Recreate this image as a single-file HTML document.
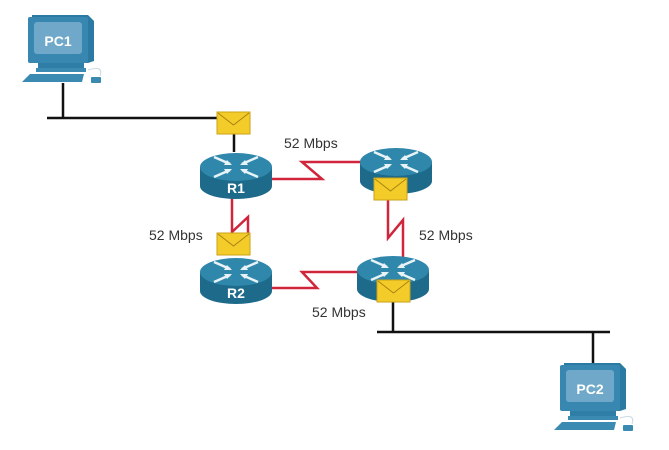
<!DOCTYPE html>
<html><head><meta charset="utf-8"><style>
html,body{margin:0;padding:0;background:#fff;width:669px;height:450px;overflow:hidden}
svg{display:block}
text{font-family:"Liberation Sans",sans-serif}
</style></head><body>
<svg width="669" height="450" viewBox="0 0 669 450" xmlns="http://www.w3.org/2000/svg">
<defs>
<g id="router">
  <path d="M0,15 L0,34 A36,13 0 0 0 72,34 L72,15 Z" fill="#1d6a8a"/>
  <ellipse cx="36" cy="15" rx="36" ry="14" fill="#2f87ab"/>
  <g stroke="#e8f3f8" stroke-width="2.5" fill="none">
    <path d="M14,5 L30,12 M58,5 L42,12 M14,25 L30,18 M58,25 L42,18"/>
  </g>
  <g fill="#e8f3f8">
    <path d="M32,13 l-8,0 l3,-5 z M40,13 l8,0 l-3,-5 z M32,17 l-8,0 l3,5 z M40,17 l8,0 l-3,5 z"/>
  </g>
</g>
<g id="env">
  <rect x="0" y="0" width="33" height="22" fill="#f3cc2a" stroke="#c9a218" stroke-width="1"/>
  <path d="M1,1 L16.5,13 L32,1" fill="none" stroke="#a98410" stroke-width="1"/>
</g>
<g id="pc">
  <path d="M4,0 L60,0 L66,6 L66,46 L60,48 L4,48 Z" fill="#2a7aa3"/>
  <rect x="0" y="2" width="60" height="46" rx="2" fill="#3787b0"/>
  <rect x="6" y="7" width="48" height="32" rx="3" fill="#6fa8c8"/>
  <rect x="10" y="48" width="46" height="5" fill="#2f7ea8"/>
  <rect x="8" y="53" width="50" height="4" fill="#3a8ab2"/>
  <path d="M2,59 L56,59 L54,67 L-6,67 Z" fill="#3a8ab2"/>
  <rect x="63" y="62" width="10" height="6" rx="1" fill="#3a8ab2"/>
  <path d="M60,55 Q76,50 72,61" fill="none" stroke="#c8d8e0" stroke-width="1"/>
</g>
</defs>

<g stroke="#111" stroke-width="2.5" fill="none">
  <path d="M63,83 L63,118 M47,118 L234,118 M234,118 L234,152"/>
  <path d="M393,300 L393,332 M377,332 L610,332 M593,332 L593,364"/>
</g>

<g stroke="#d0253a" stroke-width="2.5" fill="none" stroke-linejoin="miter">
  <path d="M271,179 L322,179 L302,162 L362,162"/>
  <path d="M232,196 L232,232 L248,217 L248,236"/>
  <path d="M388,198 L388,238 L403,220 L403,258"/>
  <path d="M271,288 L317,288 L302,272 L360,272"/>
</g>

<use href="#router" x="200" y="152"/>
<use href="#router" x="360" y="147"/>
<use href="#router" x="200" y="257"/>
<use href="#router" x="357" y="255"/>

<text x="236" y="193" fill="#fff" font-weight="bold" font-size="14" text-anchor="middle">R1</text>
<text x="236" y="298" fill="#fff" font-weight="bold" font-size="14" text-anchor="middle">R2</text>

<use href="#env" x="217" y="112"/>
<use href="#env" x="374" y="178"/>
<use href="#env" x="217" y="233"/>
<use href="#env" x="377" y="280"/>

<use href="#pc" x="28" y="15"/>
<text x="58" y="46" fill="#fff" font-weight="bold" font-size="14" text-anchor="middle">PC1</text>
<use href="#pc" x="560" y="363"/>
<text x="590" y="394" fill="#fff" font-weight="bold" font-size="14" text-anchor="middle">PC2</text>

<g font-size="14" fill="#333">
  <text x="284" y="148">52 Mbps</text>
  <text x="149" y="240">52 Mbps</text>
  <text x="419" y="240">52 Mbps</text>
  <text x="312" y="317">52 Mbps</text>
</g>
</svg>
</body></html>
